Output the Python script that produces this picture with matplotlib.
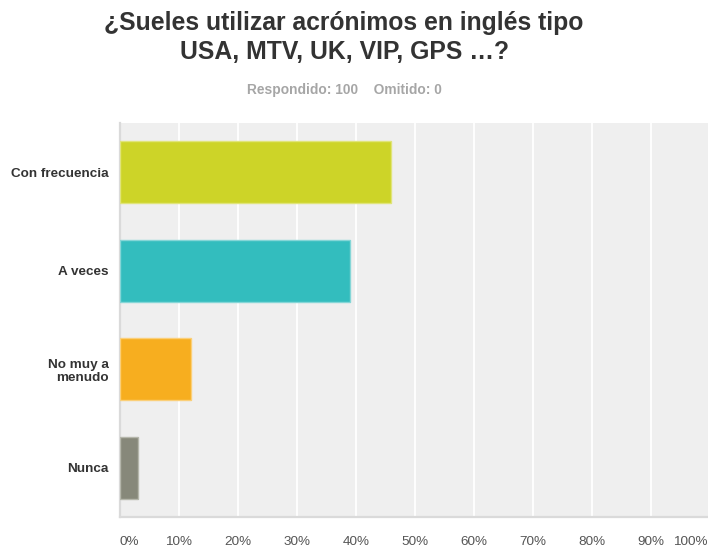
import matplotlib.pyplot as plt
from matplotlib.transforms import ScaledTranslation

plt.rcParams['font.family'] = ['Liberation Sans', 'DejaVu Sans']

# survey answers (percent of respondents)
categories = ['Con frecuencia', 'A veces', 'No muy a\nmenudo', 'Nunca']
percents = [46, 39, 12, 3]
colors = ['#cdd428', '#33bdbe', '#f7ae1f', '#87887a']
edge_colors = ['#e0e47a', '#85d6d7', '#fbcf78', '#b5b6ab']
tick_values = list(range(0, 101, 10))
tick_labels = [f'{v}%' for v in tick_values]

fig = plt.figure(figsize=(7.08, 5.47), dpi=100)
W, H = 708, 547
ax = fig.add_axes([120 / W, 1 - 517 / H, 590 / W, 394 / H])

ax.set_facecolor('#efefef')
pos = list(range(len(categories)))
ax.barh(pos, percents, height=0.625, color=colors, edgecolor=edge_colors,
        linewidth=1, zorder=3)
ax.set_ylim(len(categories) - 0.5, -0.5)
ax.set_xlim(0, 100)

ax.set_xticks(tick_values)
ax.set_xticklabels(tick_labels)
ax.grid(axis='x', color='white', linewidth=1.3, zorder=1)
ax.set_axisbelow(True)

ax.set_yticks(pos)
ax.set_yticklabels(categories, fontweight='bold', fontsize=9.7, color='#333333',
                   linespacing=1.15)
ax.tick_params(axis='y', length=0, pad=8)
ax.tick_params(axis='x', length=0, pad=14, labelsize=9.7, labelcolor='#555555')

labels = ax.get_xticklabels()
labels[0].set_horizontalalignment('left')
labels[-1].set_horizontalalignment('right')
labels[-1].set_transform(labels[-1].get_transform() +
                         ScaledTranslation(-2 / 100, 0, fig.dpi_scale_trans))

for side in ['top', 'right']:
    ax.spines[side].set_visible(False)
for side in ['left', 'bottom']:
    ax.spines[side].set_color('#dadada')
    ax.spines[side].set_linewidth(1.6)

fig.text(344 / W, 1 - 23 / H, '¿Sueles utilizar acrónimos en inglés tipo',
         ha='center', va='center', fontsize=17.8, fontweight='bold', color='#333333')
fig.text(344 / W, 1 - 52 / H, 'USA, MTV, UK, VIP, GPS …?',
         ha='center', va='center', fontsize=17.8, fontweight='bold', color='#333333')
fig.text(344 / W, 1 - 90 / H, 'Respondido: 100    Omitido: 0',
         ha='center', va='center', fontsize=9.9, fontweight='bold', color='#a6a6a6')

fig.savefig('out.png', dpi=100, facecolor='white')
